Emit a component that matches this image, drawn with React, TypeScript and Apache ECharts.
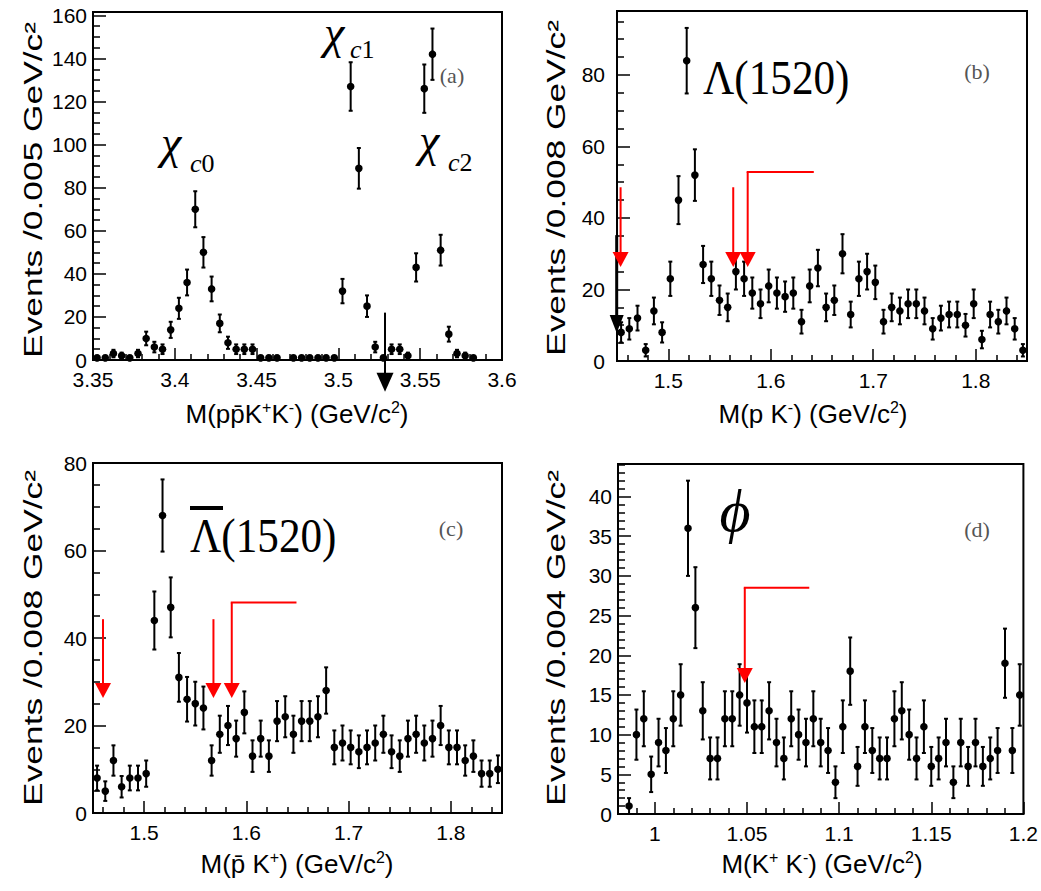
import React, { useEffect, useRef } from 'react';
import * as echarts from 'echarts';

// ---------- data (event counts per bin; null = empty bin) ----------
const A_START = 3.35;
const A_WIDTH = 0.005;
const countsA = [
  1, 1, 3, 2, 1, 3, 10, 6, 5, 14,
  24, 36, 70, 50, 33, 17, 8, 5, 5, 5,
  1, 1, 1, null, 1, 1, 1, 1, 1, 1,
  32, 127, 89, 25, 6, 1, 5, 5, 2, 43,
  126, 142, 51, 12, 3, 2, 1, null, null, null,
];

const B_START = 1.45;
const B_WIDTH = 0.008;
const countsB = [
  8, 9, 12, 3, 14, 8, 23, 45, 84, 52,
  27, 23, 17, 15, 25, 23, 19, 16, 21, 19,
  18, 19, 11, 21, 26, 15, 17, 30, 13, 23,
  25, 22, 11, 15, 14, 16, 16, 14, 9, 12,
  13, 13, 10, 16, 6, 13, 11, 14, 9, 3,
];

const C_START = 1.45;
const C_WIDTH = 0.008;
const countsC = [
  8, 5, 12, 6, 8, 8, 9, 44, 68, 47,
  31, 26, 25, 24, 12, 18, 20, 17, 23, 13,
  17, 13, 21, 22, 18, 21, 21, 22, 28, 15,
  16, 15, 14, 15, 16, 18, 14, 13, 17, 18,
  16, 17, 20, 15, 15, 12, 13, 9, 9, 10,
];

const D_START = 0.98;
const D_WIDTH = 0.004;
const countsD = [
  null, 1, 10, 12, 5, 9, 8, 12, 15, 36,
  26, 13, 7, 7, 12, 12, 15, 14, 11, 11,
  13, 9, 7, 12, 10, 9, 12, 9, 8, 4,
  11, 18, 6, 11, 8, 7, 7, 12, 13, 10,
  7, 11, 6, 7, 9, 4, 9, 6, 9, 6,
  7, 8, 19, 8, 15,
];

// arrows: [x, yTop, yTip, xEndOfHorizontalLine]
const blackArrowsA = [[3.5285, 22, -14.8, 3.5285]];
const blackArrowsB = [[1.4497, 35.2, 7.8, 1.4497]];
const redArrowsB = [
  [1.4535, 48.6, 26.3, 1.4535],
  [1.5634, 48.6, 26.3, 1.5634],
  [1.5775, 52.9, 26.3, 1.642],
];
const redArrowsC = [
  [1.4598, 44.3, 26.3, 1.4598],
  [1.5678, 44.3, 26.3, 1.5678],
  [1.5857, 48.1, 26.3, 1.649],
];
const redArrowsD = [[1.0488, 28.5, 16.5, 1.0838]];

// ---------- helpers ----------
const SANS = 'Liberation Sans, Arial, Helvetica, sans-serif';
const SERIF = 'Liberation Serif, Times New Roman, serif';

const toPoints = (start: number, width: number, counts: (number | null)[]) =>
  counts
    .map((c, i) => (c == null ? null : [start + width * (i + 0.5), c, Math.sqrt(c)]))
    .filter((d) => d !== null) as number[][];

const isMult = (v: number, step: number) => Math.abs(v / step - Math.round(v / step)) < 1e-6;
const fmt = (v: number) => String(+v.toFixed(4));

function errRender(params: any, api: any) {
  const x = api.value(0);
  const y = api.value(1);
  const e = api.value(2);
  const p = api.coord([x, y]);
  const t = api.coord([x, y + e]);
  const b = api.coord([x, Math.max(y - e, 0)]);
  const cap = 2;
  const st = { stroke: '#000', lineWidth: 2 };
  return {
    type: 'group',
    children: [
      { type: 'line', shape: { x1: p[0], y1: t[1], x2: p[0], y2: b[1] }, style: st },
      { type: 'line', shape: { x1: p[0] - cap, y1: t[1], x2: p[0] + cap, y2: t[1] }, style: st },
      { type: 'line', shape: { x1: p[0] - cap, y1: b[1], x2: p[0] + cap, y2: b[1] }, style: st },
      { type: 'circle', shape: { cx: p[0], cy: p[1], r: 3.8 }, style: { fill: '#000' } },
    ],
  };
}

const arrowRender = (color: string, headW: number, headH: number, lw: number) => (params: any, api: any) => {
  const x = api.value(0);
  const top = api.value(1);
  const tip = api.value(2);
  const hEnd = api.value(3);
  const pT = api.coord([x, top]);
  const pP = api.coord([x, tip]);
  const children: any[] = [
    { type: 'line', shape: { x1: pT[0], y1: pT[1], x2: pP[0], y2: pP[1] - headH + 1 }, style: { stroke: color, lineWidth: lw } },
    {
      type: 'polygon',
      shape: { points: [[pP[0] - headW / 2, pP[1] - headH], [pP[0] + headW / 2, pP[1] - headH], [pP[0], pP[1]]] },
      style: { fill: color },
    },
  ];
  if (hEnd > x + 1e-9) {
    const pE = api.coord([hEnd, top]);
    children.push({ type: 'line', shape: { x1: pT[0] - lw / 2, y1: pT[1], x2: pE[0], y2: pE[1] }, style: { stroke: color, lineWidth: lw } });
  }
  return { type: 'group', children };
};

function mkX(gridIndex: number, min: number, max: number, step: number) {
  return {
    type: 'value',
    gridIndex,
    min,
    max,
    splitNumber: Math.round((max - min) / step),
    axisLine: { show: true, onZero: false, lineStyle: { color: '#000', width: 2 } },
    axisTick: { show: true, inside: true, length: 12, lineStyle: { color: '#000', width: 1.5 } },
    minorTick: { show: true, splitNumber: 5, length: 6, lineStyle: { color: '#000', width: 1.5 } },
    splitLine: { show: false },
    axisLabel: {
      color: '#000',
      fontFamily: SANS,
      fontSize: 21,
      lineHeight: 15,
      margin: 12,
      hideOverlap: false,
      formatter: (v: number) => (isMult(v, step) ? fmt(v) : ''),
    },
  };
}

function mkY(gridIndex: number, max: number, step: number, minorSplit: number, margin: number) {
  return {
    type: 'value',
    gridIndex,
    min: 0,
    max,
    interval: step,
    axisLine: { show: true, onZero: false, lineStyle: { color: '#000', width: 2 } },
    axisTick: { show: true, inside: true, length: 13, lineStyle: { color: '#000', width: 1.5 } },
    minorTick: { show: true, splitNumber: minorSplit, length: 7, lineStyle: { color: '#000', width: 1.5 } },
    splitLine: { show: false },
    axisLabel: {
      color: '#000',
      fontFamily: SANS,
      fontSize: 21,
      lineHeight: 15,
      margin,
      formatter: (v: number) => (isMult(v, step) ? fmt(v) : ''),
    },
  };
}

const errSeries = (i: number, data: number[][]) => ({
  type: 'custom',
  xAxisIndex: i,
  yAxisIndex: i,
  clip: false,
  renderItem: errRender,
  encode: { x: 0, y: 1 },
  data,
  z: 3,
});

const arrowSeries = (i: number, data: number[][], color: string, hw: number, hh: number, lw: number) => ({
  type: 'custom',
  xAxisIndex: i,
  yAxisIndex: i,
  clip: false,
  renderItem: arrowRender(color, hw, hh, lw),
  encode: { x: 0, y: 1 },
  data,
  z: 5,
});

const yTitle = (x: number, yTop: number, text: string) => ({
  type: 'text',
  x,
  y: yTop,
  rotation: Math.PI / 2,
  scaleX: 1.36,
  style: {
    text,
    fontFamily: SANS,
    fontSize: 26,
    fill: '#000',
    align: 'right',
    verticalAlign: 'middle',
  },
});

const xTitle = (x: number, y: number, text: string) => ({
  type: 'text',
  x,
  y,
  style: {
    text,
    align: 'center',
    verticalAlign: 'middle',
    fill: '#000',
    rich: {
      t: { fontFamily: SANS, fontSize: 26, lineHeight: 30, fill: '#000' },
      s: { fontFamily: SANS, fontSize: 16, lineHeight: 17, verticalAlign: 'top', fill: '#000' },
    },
  },
});

const serifText = (x: number, y: number, text: string, size: number, opts: any = {}) => ({
  type: 'text',
  x,
  y,
  ...(opts.scaleX ? { scaleX: opts.scaleX } : {}),
  style: {
    text,
    fontFamily: SERIF,
    fontSize: size,
    fontStyle: opts.italic ? 'italic' : 'normal',
    fill: opts.fill || '#000',
    align: opts.align || 'left',
    verticalAlign: 'middle',
    rich: opts.rich,
  },
});

const subRich = {
  i: { fontFamily: SERIF, fontSize: 26, fontStyle: 'italic', fill: '#000' },
  r: { fontFamily: SERIF, fontSize: 26, fill: '#000' },
};

function buildOption() {
  return {
    animation: false,
    backgroundColor: '#fff',
    grid: [
      { left: 93, top: 12, width: 409, height: 348, show: true, borderColor: '#000', borderWidth: 2, backgroundColor: 'transparent' },
      { left: 617, top: 11, width: 410, height: 350, show: true, borderColor: '#000', borderWidth: 2, backgroundColor: 'transparent' },
      { left: 93, top: 463, width: 409, height: 350, show: true, borderColor: '#000', borderWidth: 2, backgroundColor: 'transparent' },
      { left: 618, top: 464, width: 410, height: 350, show: true, borderColor: '#000', borderWidth: 2, backgroundColor: 'transparent' },
    ],
    xAxis: [
      mkX(0, 3.35, 3.6, 0.05),
      mkX(1, 1.45, 1.85, 0.1),
      mkX(2, 1.45, 1.85, 0.1),
      mkX(3, 0.98, 1.2, 0.05),
    ],
    yAxis: [
      mkY(0, 161.6, 20, 4, 6),
      mkY(1, 97.9, 20, 4, 12),
      mkY(2, 80, 20, 4, 6),
      mkY(3, 44.1, 5, 5, 6),
    ],
    series: [
      errSeries(0, toPoints(A_START, A_WIDTH, countsA)),
      errSeries(1, toPoints(B_START, B_WIDTH, countsB)),
      errSeries(2, toPoints(C_START, C_WIDTH, countsC)),
      errSeries(3, toPoints(D_START, D_WIDTH, countsD)),
      arrowSeries(0, blackArrowsA, '#000', 17, 19, 2),
      arrowSeries(1, blackArrowsB, '#000', 14, 18, 3),
      arrowSeries(1, redArrowsB, '#ff0000', 16, 15, 2),
      arrowSeries(2, redArrowsC, '#ff0000', 16, 15, 2),
      arrowSeries(3, redArrowsD, '#ff0000', 16, 15, 2),
    ],
    graphic: [
      yTitle(33, 22, 'Events /0.005 GeV/c²'),
      yTitle(556, 20, 'Events /0.008 GeV/c²'),
      yTitle(33, 470, 'Events /0.008 GeV/c²'),
      yTitle(556, 470, 'Events /0.004 GeV/c²'),
      xTitle(297, 414, '{t|M(pp\u0304K}{s|+}{t|K}{s|-}{t|) (GeV/c}{s|2}{t|)}'),
      xTitle(813, 414, '{t|M(p K}{s|-}{t|) (GeV/c}{s|2}{t|)}'),
      xTitle(297, 864, '{t|M(p\u0304 K}{s|+}{t|) (GeV/c}{s|2}{t|)}'),
      xTitle(822, 864, '{t|M(K}{s|+}{t| K}{s|-}{t|) (GeV/c}{s|2}{t|)}'),
      // chi_c labels
      serifText(161, 142, 'χ', 46, { italic: true }),
      serifText(190, 163.2, '{i|c}{r|0}', 26, { rich: subRich }),
      serifText(324, 32, 'χ', 46, { italic: true }),
      serifText(350, 49.5, '{i|c}{r|1}', 26, { rich: subRich }),
      serifText(419, 140, 'χ', 46, { italic: true }),
      serifText(448, 162.2, '{i|c}{r|2}', 26, { rich: subRich }),
      // resonance labels
      serifText(703, 78, 'Λ(1520)', 48, { scaleX: 0.9 }),
      serifText(190, 536, 'Λ(1520)', 48, { scaleX: 0.9 }),
      { type: 'rect', shape: { x: 190, y: 506, width: 33, height: 4 }, style: { fill: '#000' } },
      serifText(735, 511, 'ϕ', 60, { italic: true, align: 'center' }),
      // panel tags
      serifText(452, 75, '(a)', 22, { fill: '#555', align: 'center' }),
      serifText(977, 71, '(b)', 22, { fill: '#555', align: 'center' }),
      serifText(451, 528, '(c)', 22, { fill: '#555', align: 'center' }),
      serifText(977, 529, '(d)', 22, { fill: '#555', align: 'center' }),
    ],
  };
}

export default function App() {
  const ref = useRef<HTMLDivElement>(null);
  useEffect(() => {
    const chart = echarts.init(ref.current as HTMLDivElement, null, { renderer: 'svg' });
    chart.setOption(buildOption() as any);
    return () => chart.dispose();
  }, []);
  return (
    <div
      ref={ref}
      style={{ position: 'absolute', left: 0, top: 0, width: 1041, height: 891, background: '#fff' }}
    />
  );
}
